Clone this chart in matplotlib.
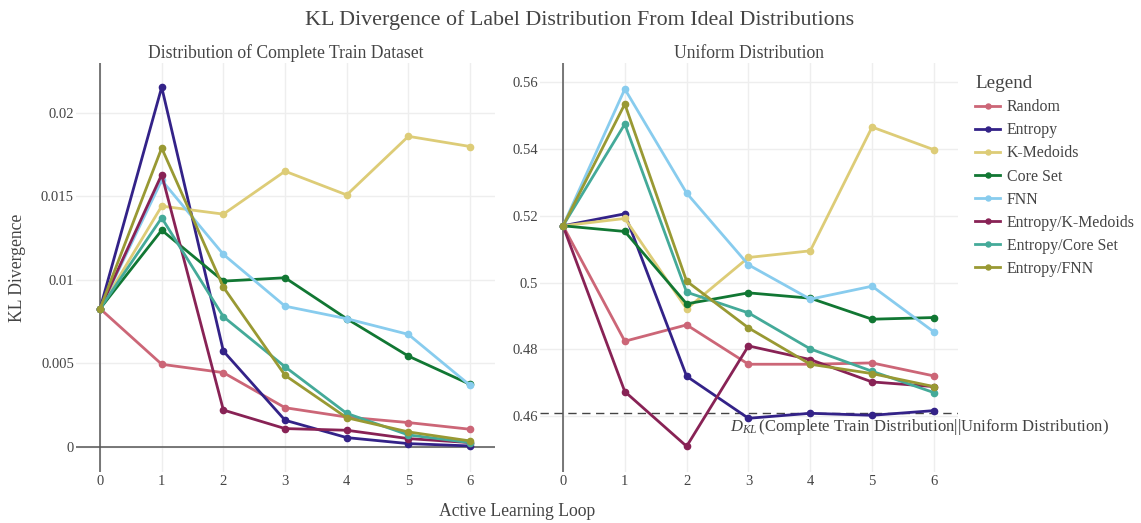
import matplotlib
matplotlib.use("Agg")
import matplotlib.pyplot as plt

plt.rcParams['font.family'] = ['Liberation Serif', 'DejaVu Serif']
plt.rcParams['mathtext.fontset'] = 'custom'
plt.rcParams['mathtext.rm'] = 'Liberation Serif'
plt.rcParams['mathtext.it'] = 'Liberation Serif:italic'

TXT = '#444444'

loops = [0, 1, 2, 3, 4, 5, 6]
methods = ['Random', 'Entropy', 'K-Medoids', 'Core Set', 'FNN',
           'Entropy/K-Medoids', 'Entropy/Core Set', 'Entropy/FNN']
colors = ['#CC6677', '#332288', '#DDCC77', '#117733', '#88CCEE',
          '#882255', '#44AA99', '#999933']

# KL divergence vs. the complete train dataset distribution
kl_train_random = [0.00828, 0.00495, 0.00445, 0.00235, 0.00179, 0.00146, 0.00106]
kl_train_entropy = [0.00828, 0.02154, 0.00574, 0.00160, 0.00056, 0.00020, 0.00006]
kl_train_kmedoids = [0.00828, 0.01442, 0.01394, 0.01651, 0.01509, 0.01860, 0.01799]
kl_train_coreset = [0.00828, 0.01298, 0.00993, 0.01013, 0.00768, 0.00544, 0.00375]
kl_train_fnn = [0.00828, 0.01597, 0.01153, 0.00843, 0.00768, 0.00674, 0.00369]
kl_train_ent_kmed = [0.00828, 0.01631, 0.00221, 0.00110, 0.00100, 0.00050, 0.00026]
kl_train_ent_core = [0.00828, 0.01372, 0.00780, 0.00480, 0.00201, 0.00072, 0.00026]
kl_train_ent_fnn = [0.00828, 0.01790, 0.00957, 0.00429, 0.00175, 0.00090, 0.00036]

# KL divergence vs. the uniform distribution
kl_unif_random = [0.517, 0.4824, 0.4873, 0.4755, 0.4755, 0.4759, 0.4720]
kl_unif_entropy = [0.517, 0.5206, 0.4719, 0.4593, 0.4608, 0.4602, 0.4616]
kl_unif_kmedoids = [0.517, 0.5192, 0.4921, 0.5075, 0.5095, 0.5466, 0.5398]
kl_unif_coreset = [0.517, 0.5153, 0.4936, 0.4969, 0.4953, 0.4890, 0.4895]
kl_unif_fnn = [0.517, 0.5580, 0.5268, 0.5053, 0.4950, 0.4989, 0.4852]
kl_unif_ent_kmed = [0.517, 0.4673, 0.4509, 0.4810, 0.4769, 0.4702, 0.4688]
kl_unif_ent_core = [0.517, 0.5475, 0.4971, 0.4909, 0.4801, 0.4734, 0.4670]
kl_unif_ent_fnn = [0.517, 0.5535, 0.5004, 0.4864, 0.4755, 0.4727, 0.4688]

kl_full_vs_uniform = 0.461

train_series = [kl_train_random, kl_train_entropy, kl_train_kmedoids, kl_train_coreset,
                kl_train_fnn, kl_train_ent_kmed, kl_train_ent_core, kl_train_ent_fnn]
unif_series = [kl_unif_random, kl_unif_entropy, kl_unif_kmedoids, kl_unif_coreset,
               kl_unif_fnn, kl_unif_ent_kmed, kl_unif_ent_core, kl_unif_ent_fnn]

left_ticks = [0, 0.005, 0.01, 0.015, 0.02]
right_ticks = [0.46, 0.48, 0.5, 0.52, 0.54, 0.56]

W, H = 1141, 523
fig = plt.figure(figsize=(W / 100, H / 100), dpi=100)
ax1 = fig.add_axes([76 / W, 51 / H, 419 / W, 409 / H])
ax2 = fig.add_axes([540 / W, 51 / H, 418 / W, 409 / H])


def style(ax, ticks, ylim, xlim):
    ax.set_xlim(*xlim)
    ax.set_ylim(*ylim)
    ax.set_xticks(loops)
    ax.set_yticks(ticks)
    ax.set_yticklabels(['%g' % t for t in ticks])
    for s in ax.spines.values():
        s.set_visible(False)
    ax.grid(True, color='#eeeeee', lw=1)
    ax.set_axisbelow(True)
    ax.tick_params(length=0, labelsize=10.5, labelcolor=TXT)
    ax.tick_params(axis='y', pad=1.5)
    ax.tick_params(axis='x', pad=2)
    ax.axvline(0, color='#555555', lw=1.1, zorder=1.5)


style(ax1, left_ticks, (-0.0015, 0.02299), (-0.39, 6.405))
ax1.axhline(0, color='#555555', lw=1.1, zorder=1.5)
style(ax2, right_ticks, (0.4432, 0.5658), (-0.372, 6.39))

for name, col, ys in zip(methods, colors, train_series):
    ax1.plot(loops, ys, color=col, lw=2, marker='o', ms=4.5, label=name)
for name, col, ys in zip(methods, colors, unif_series):
    ax2.plot(loops, ys, color=col, lw=2, marker='o', ms=4.5)

ax2.axhline(kl_full_vs_uniform, color='#444444', lw=1, ls=(0, (6, 4)), zorder=1.6)
ax2.text(2.70, 0.4566, r'$D_{KL}\,$(Complete Train Distribution||Uniform Distribution)',
         fontsize=12, color=TXT, va='center', ha='left', clip_on=False)

ax1.set_title('Distribution of Complete Train Dataset', fontsize=12.7, color=TXT, pad=3.5)
ax2.set_title('Uniform Distribution', fontsize=12.7, color=TXT, pad=3.5)
fig.text(580 / W, 1 - 20 / H, 'KL Divergence of Label Distribution From Ideal Distributions',
         fontsize=15.8, color=TXT, ha='center', va='center')
fig.text(517 / W, 1 - 511 / H, 'Active Learning Loop', fontsize=12.7, color=TXT,
         ha='center', va='center')
fig.text(18 / W, 1 - 268 / H, 'KL Divergence', fontsize=12.7, color=TXT,
         ha='center', va='center', rotation=90)

leg = fig.legend(loc='upper left', bbox_to_anchor=(975 / W, 1 - 75 / H), frameon=False,
                 title='Legend', fontsize=11.4, title_fontsize=13.7, alignment='left',
                 handlelength=1.6, handletextpad=0.4, labelspacing=0.45, numpoints=1,
                 borderpad=0, borderaxespad=0, markerscale=0.8)
for t in leg.get_texts():
    t.set_color(TXT)
leg.get_title().set_color(TXT)

fig.savefig('out.png', dpi=100)
